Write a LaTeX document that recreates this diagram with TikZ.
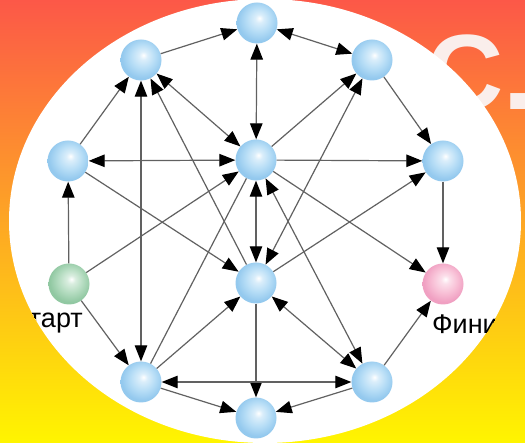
\documentclass[tikz,border=0pt]{standalone}
\usepackage{fontspec}
\setmainfont{Liberation Sans}
\usetikzlibrary{arrows.meta}

\definecolor{bgtop}{RGB}{252,88,72}
\definecolor{bgmid}{RGB}{255,150,35}
\definecolor{bgbot}{RGB}{255,245,0}
\definecolor{titlewhite}{RGB}{250,238,235}
\definecolor{ballblue}{RGB}{182,221,246}
\definecolor{ballblueedge}{RGB}{148,201,238}
\definecolor{ballgreen}{RGB}{180,220,192}
\definecolor{ballgreenedge}{RGB}{145,200,162}
\definecolor{ballpink}{RGB}{248,192,214}
\definecolor{ballpinkedge}{RGB}{240,160,194}

\def\declareball#1#2#3{\pgfdeclareradialshading{#1}{\pgfpoint{3bp}{6bp}}{color(0bp)=(white); color(5bp)=(white!50!#2); color(15bp)=(#2); color(25bp)=(#3); color(50bp)=(#3)}}
\declareball{sphereblue}{ballblue}{ballblueedge}
\declareball{spheregreen}{ballgreen}{ballgreenedge}
\declareball{spherepink}{ballpink}{ballpinkedge}

\tikzset{
	sphere/.style={circle, minimum size=41pt, inner sep=0pt, shade, shading=sphereblue},
	startball/.style={sphere, shading=spheregreen},
	finishball/.style={sphere, shading=spherepink},
	link/.style={draw=black!62, line width=1.2pt},
	label/.style={inner sep=0pt, font=\fontsize{27}{32}\selectfont},
	>={Triangle[length=16pt, width=12.5pt, color=black]},
}

\begin{document}
\begin{tikzpicture}[x=1pt, y=-1pt]
		%%%%% START %%%%%
		\useasboundingbox (0,0) rectangle (525,443);
		\clip (0,0) rectangle (525,443);
		\fill[top color=bgtop, middle color=bgmid, bottom color=bgbot] (0,0) rectangle (525,443);
		
		% slide title, mostly hidden by the picture
		\node[anchor=base west, inner sep=0pt, text=titlewhite, font=\fontsize{107}{107}\selectfont\bfseries] (title) at (426,110) {С.};
		
		\fill[white] (265,221) ellipse [x radius=256pt, y radius=222pt];
		
		\begin{scope}
		\clip (265,221) ellipse [x radius=256pt, y radius=222pt];
		
		\node[sphere] (ntop) at (257,23) {};
		\node[sphere] (nul) at (141,60) {};
		\node[sphere] (nur) at (372,60) {};
		\node[sphere] (nleft) at (68,161) {};
		\node[sphere] (ncen) at (256,160) {};
		\node[sphere] (nright) at (443,161) {};
		\node[startball] (nstart) at (69,284) {};
		\node[sphere] (nmid) at (256,283) {};
		\node[finishball] (nfin) at (443,284) {};
		\node[sphere] (nll) at (141,382) {};
		\node[sphere] (nlr) at (372,382) {};
		\node[sphere] (nbot) at (256,418) {};
		
		\node[label, anchor=base east] (lstart) at (83,328) {Старт};
		\node[label, anchor=base west] (lfin) at (432,334) {Финиш};
		
		% upper part
		\draw[link, ->] (nul) -- (ntop);
		\draw[link, <->] (ntop) -- (nur);
		\draw[link, <->] (ntop) -- (ncen);
		\draw[link, <->] (nul) -- (ncen);
		\draw[link, ->] (nur) -- (nright);
		\draw[link, ->] (nleft) -- (nul);
		\draw[link, <->] (nul) -- (nll);
		\draw[link, ->] (nmid) -- (nul);
		\draw[link, ->] (ncen) -- (nur);
		\draw[link, <->] (nmid) -- (nur);
		
		% middle part
		\draw[link, <->] (nleft) -- (ncen);
		\draw[link, ->] (ncen) -- (nright);
		\draw[link, ->] (nstart) -- (nleft);
		\draw[link, ->] (nleft) -- (nmid);
		\draw[link, ->] (nstart) -- (ncen);
		\draw[link, <->] (ncen) -- (nmid);
		\draw[link, ->] (ncen) -- (nfin);
		\draw[link, ->] (nmid) -- (nright);
		\draw[link, ->] (nright) -- (nfin);
		\draw[link, <->] (ncen) -- (nlr);
		\draw[link] (nll) -- (ncen);
		
		% lower part
		\draw[link, ->] (nstart) -- (nll);
		\draw[link, ->] (nll) -- (nmid);
		\draw[link, ->] (nmid) -- (nbot);
		\draw[link, <->] (nmid) -- (nlr);
		\draw[link, <->] (nll) -- (nlr);
		\draw[link, ->] (nll) -- (nbot);
		\draw[link, ->] (nlr) -- (nbot);
		\draw[link, ->] (nlr) -- (nfin);
		\end{scope}
		%%%%% END %%%%%
\end{tikzpicture}
\end{document}
